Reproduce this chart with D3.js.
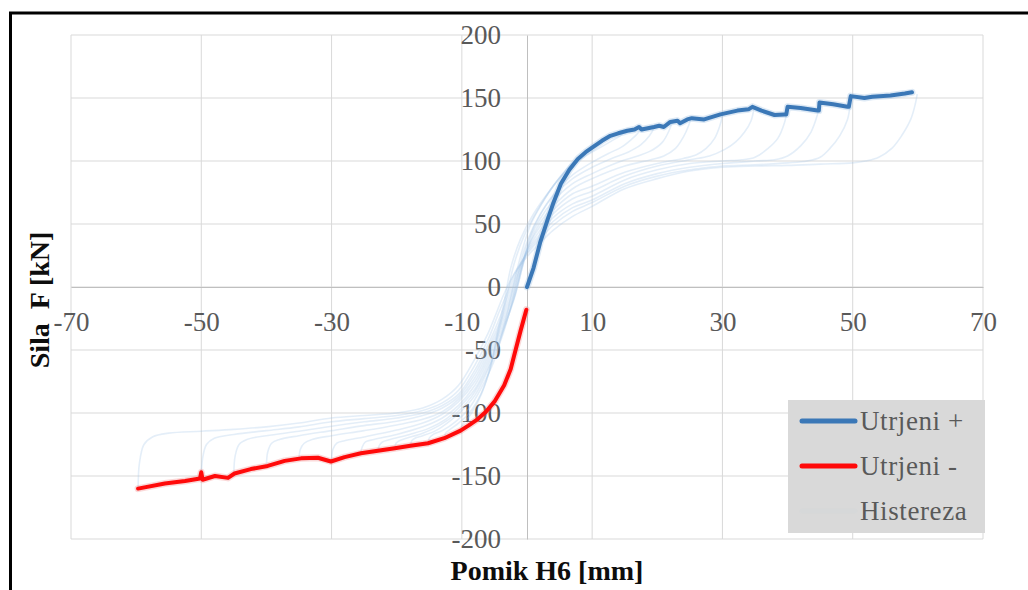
<!DOCTYPE html>
<html>
<head>
<meta charset="utf-8">
<script src="https://cdn.jsdelivr.net/npm/d3@7"></script>
<style>
  html, body { margin: 0; padding: 0; background: #fff; }
  svg { display: block; }
  text { font-family: "Liberation Serif", "Times New Roman", serif; }
</style>
</head>
<body>
<svg id="chart" width="1028" height="590"></svg>
<script>
// ---------------- DATA ----------------
const xTicks = [-70, -50, -30, -10, 10, 30, 50, 70];
const yTicks = [-200, -150, -100, -50, 0, 50, 100, 150, 200];
const xTitle = "Pomik H6 [mm]";
const yTitle = "Sila  F [kN]";
const seriesNames = ["Utrjeni +", "Utrjeni -", "Histereza"];

// envelope, positive direction [displacement mm, force kN]
const utrjeniPlus = [[0,0],[1,15],[2,35],[3.2,54],[4,66],[5.2,82],[6.5,93],[7.8,101.6],[9,107],[10.1,111],[11.5,116],[12.8,120],[14,122],[15.4,124],[16.5,125],[17.2,127],[17.6,125],[19.5,127],[20.3,128],[21,127],[22,131],[23.1,132],[23.5,130],[24.6,133],[25.3,134],[27.2,133],[29.7,137],[32.3,140],[34,141],[34.6,143],[36,140],[38,136.5],[39.5,137],[39.8,137],[40,143],[42,142],[44.6,140],[44.8,140],[44.9,146.5],[47,145],[49.2,143],[49.4,143],[49.7,151.5],[51.8,150],[53,151],[55.8,152],[58,153.5],[59.1,154.5]];

// envelope, negative direction
const utrjeniMinus = [[-0.1,-18],[-1,-35],[-2,-55],[-2.5,-65],[-3.5,-78],[-5,-91],[-6.3,-99],[-7.6,-105],[-9,-110],[-10.2,-114],[-12.7,-120],[-15.2,-124],[-17.9,-126],[-20.3,-128],[-22.9,-130],[-25.5,-132],[-28,-135],[-30.1,-138.5],[-32.1,-135.5],[-34.7,-136],[-37.2,-138],[-39.8,-142],[-42.4,-144.5],[-44.9,-148],[-45.9,-151.5],[-47.9,-150],[-49.8,-153],[-50,-147],[-50.2,-152],[-52.5,-154],[-55.6,-156],[-59.7,-160]];

// hysteresis branches (one per cycle amplitude)
const hyst60 = [[-59.7,-160],[-59.5,-140],[-58.8,-125],[-57.5,-119],[-55,-116],[-50,-114.5],[-45,-113],[-40,-111],[-35,-108],[-30,-104],[-25,-102],[-20,-100],[-16,-96],[-13,-89],[-10.5,-78],[-8,-57],[-6,-37],[-4.5,-18],[-3.4,-4],[-2,10],[0,24],[2,35],[4,45],[7,56],[10,64],[15,78],[20,86],[25,92],[30,95],[35,96],[40,96.5],[45,97.5],[50,98.5],[52,100],[54,103],[56,110],[57.5,120],[58.9,133],[59.6,145],[59.9,153]];
const hyst50 = [[-50,-152],[-49.8,-136],[-49.2,-125],[-48,-120],[-45,-117],[-40,-114],[-35,-111],[-30,-107],[-25,-104.5],[-20,-102],[-16,-98],[-13,-92],[-10.5,-82],[-8,-62],[-6,-42],[-4.3,-20],[-3,-4],[-1.8,12],[0,26],[2,38],[4,49],[7,60],[10,67],[15,80],[20,88],[25,93],[30,96],[35,97],[40,98.5],[43,100],[45,103],[46.5,110],[48,120],[49.2,133],[49.6,145]];
const hyst45 = [[-45,-148],[-44.8,-134],[-44.2,-125],[-43,-121],[-40,-118],[-35,-114.5],[-30,-110.5],[-25,-107],[-20,-104],[-16,-100],[-13,-94],[-10.5,-85],[-8,-66],[-6,-46],[-4,-22],[-2.8,-5],[-1.5,13],[0,27],[2,40],[4,52],[7,63],[10,69],[15,82],[20,90],[25,95],[30,98],[35,100],[38,101],[40,104],[42,112],[43.6,123],[44.6,137],[45,146]];
const hyst40 = [[-40,-142],[-39.8,-131],[-39.2,-124],[-38,-121],[-35,-118],[-30,-114],[-25,-110],[-20,-106.5],[-16,-102],[-13,-96],[-10.5,-87],[-8,-69],[-6,-49],[-4,-26],[-2.6,-6],[-1.2,14],[0,28],[2,42],[4,55],[7,66],[10,72],[15,85],[20,93],[25,98],[30,100],[33,101],[35,103],[37,110],[38.5,118],[39.5,130],[40,142]];
const hyst35 = [[-35,-137],[-34.8,-129],[-34.2,-124],[-33,-121],[-30,-118],[-25,-114],[-20,-109.5],[-16,-105],[-13,-99],[-10.5,-89],[-8,-72],[-6,-52],[-4,-29],[-2.4,-7],[-1,15],[0,29],[2,45],[4,58],[7,70],[10,76],[15,88],[20,96],[25,101],[28,104],[30.3,109],[32,115],[33.4,123],[34.4,132],[34.8,141]];
const hyst30 = [[-30,-138],[-29.8,-129],[-29.2,-124],[-28,-122],[-25,-119],[-20,-113.5],[-16,-108],[-13,-101],[-10.5,-91],[-8,-75],[-6,-55],[-4,-32],[-2.2,-8],[-0.8,16],[0,30],[2,48],[4,61],[7,74],[10,80],[15,91],[20,98],[24,102],[26,105],[27.5,110],[28.8,118],[29.6,128],[30,136]];
const hyst25 = [[-25.5,-132],[-25.3,-127],[-24.8,-123],[-23.5,-121],[-20,-117],[-16,-111],[-13,-104],[-10.5,-94],[-8,-78],[-6,-58],[-4,-35],[-2,-9],[-0.6,18],[0.5,36],[2,51],[4,64],[7,78],[10,86],[15,96],[19,101],[21,104],[22.8,110],[24,119],[24.8,128],[25.1,133]];
const hyst22 = [[-22.9,-130],[-22.7,-126],[-22.2,-123],[-21,-121],[-18,-117],[-15,-112],[-12.5,-105],[-10.5,-96],[-8,-81],[-6,-61],[-4,-38],[-2,-10],[-0.5,20],[0.6,40],[2,54],[4,68],[7,82],[10,90],[14,99],[17,104],[19,108],[20.8,115],[21.8,124],[22.3,131]];
const hyst20 = [[-20.3,-128],[-20.1,-124],[-19.6,-122],[-18.5,-120],[-16,-116],[-13.5,-110],[-11,-101],[-8.5,-87],[-6,-64],[-4,-40],[-2.2,-12],[-1,12],[0.3,38],[2,57],[4,72],[7,86],[10,95],[13,102],[15.5,107],[17.5,113],[18.8,120],[19.6,127]];
const hyst17 = [[-17.9,-126],[-17.7,-122],[-17.2,-120],[-16,-118],[-14,-114],[-12,-107],[-10,-98],[-8,-86],[-6,-66],[-4,-42],[-2.6,-18],[-1.6,5],[-0.4,30],[1,48],[3,66],[5,79],[7,89],[10,99],[12.5,106],[14.5,111],[16,117],[17,122],[17.4,126]];
const hyst15 = [[-15.2,-124],[-15,-120],[-14.4,-117],[-13,-114],[-11,-107],[-9,-97],[-7,-80],[-5,-58],[-4,-40],[-3,-20],[-2,3],[-0.8,28],[0.6,50],[2.5,68],[4,80],[6,92],[9,104],[11,110],[13,116],[14.3,120],[15,124]];
const hyst12 = [[-12.7,-120],[-12.5,-116],[-11.8,-113],[-10.5,-108],[-9,-101],[-7,-84],[-5.5,-62],[-4.5,-35],[-3.5,-12],[-2.5,15],[-1,38],[1,58],[4,80],[7,98],[9,106],[10.5,111],[11.8,116],[12.5,120]];
const hyst10 = [[-10.2,-114],[-10,-110],[-9.4,-106],[-8.5,-100],[-7,-85],[-6,-70],[-5,-50],[-4,-28],[-3,-5],[-2,18],[-0.5,40],[1.5,60],[4,80],[6.5,96],[8.5,105],[9.6,109],[10.1,111]];

const hysteresis = [hyst60, hyst50, hyst45, hyst40, hyst35, hyst30, hyst25, hyst22, hyst20, hyst17, hyst15, hyst12, hyst10];

// ---------------- CHART ----------------
const svg = d3.select("#chart");
const W = 1028, H = 590;
svg.append("rect").attr("width", W).attr("height", H).attr("fill", "#fff");

const x = d3.scaleLinear().domain([-70, 70]).range([71, 983]);
const y = d3.scaleLinear().domain([-200, 200]).range([539, 35]);

const gridColor = "#d9d9d9";
const labelColor = "#595959";
const fmt = d => String(d);   // plain hyphen-minus like the original

// gridlines
svg.append("g").selectAll("line").data(xTicks).join("line")
  .attr("x1", d => x(d)).attr("x2", d => x(d))
  .attr("y1", y(200)).attr("y2", y(-200))
  .attr("stroke", gridColor).attr("stroke-width", 1);
svg.append("g").selectAll("line").data(yTicks).join("line")
  .attr("x1", x(-70)).attr("x2", x(70))
  .attr("y1", d => y(d)).attr("y2", d => y(d))
  .attr("stroke", gridColor).attr("stroke-width", 1);

// axes through the origin
const xAxis = d3.axisBottom(x).tickValues(xTicks).tickSize(0).tickSizeOuter(0).tickPadding(25).tickFormat(fmt);
const gx = svg.append("g").attr("transform", `translate(0,${y(0)})`).call(xAxis);
gx.select(".domain").attr("stroke", "#bfbfbf").attr("stroke-width", 1);
gx.selectAll("text").attr("font-size", 27).attr("fill", labelColor)
  .attr("font-family", "Liberation Serif, Times New Roman, serif");

const yAxis = d3.axisLeft(y).tickValues(yTicks).tickSize(0).tickSizeOuter(0).tickPadding(26).tickFormat(fmt);
const gy = svg.append("g").attr("transform", `translate(${x(0)},0)`).call(yAxis);
gy.select(".domain").attr("stroke", "#bfbfbf").attr("stroke-width", 1);
gy.selectAll("text").attr("font-size", 27).attr("fill", labelColor)
  .attr("font-family", "Liberation Serif, Times New Roman, serif");

// hysteresis loops
const smooth = d3.line().x(d => x(d[0])).y(d => y(d[1])).curve(d3.curveCatmullRom.alpha(0.5));
const hystColor = "#9dc3e6";
svg.append("g").selectAll("path").data(hysteresis).join("path")
  .attr("d", smooth)
  .attr("fill", "none")
  .attr("stroke", hystColor)
  .attr("stroke-opacity", 0.28)
  .attr("stroke-width", 1.6);

// envelopes
const lin = d3.line().x(d => x(d[0])).y(d => y(d[1]));
const blue = "#3b78b7", red = "#ff0a0a";
svg.append("path").datum(utrjeniPlus).attr("d", lin).attr("fill", "none")
  .attr("stroke", "#9dc0e3").attr("stroke-width", 7).attr("stroke-opacity", 0.35)
  .attr("stroke-linejoin", "round").attr("stroke-linecap", "round");
svg.append("path").datum(utrjeniPlus).attr("d", lin).attr("fill", "none")
  .attr("stroke", blue).attr("stroke-width", 4).attr("stroke-linejoin", "round").attr("stroke-linecap", "round");
svg.append("path").datum(utrjeniMinus).attr("d", lin).attr("fill", "none")
  .attr("stroke", "#f08080").attr("stroke-width", 7).attr("stroke-opacity", 0.3)
  .attr("stroke-linejoin", "round").attr("stroke-linecap", "round");
svg.append("path").datum(utrjeniMinus).attr("d", lin).attr("fill", "none")
  .attr("stroke", red).attr("stroke-width", 4).attr("stroke-linejoin", "round").attr("stroke-linecap", "round");

// axis titles
svg.append("text").attr("x", 547).attr("y", 580).attr("text-anchor", "middle")
  .attr("font-size", 28).attr("font-weight", "bold").attr("fill", "#0d0d0d")
  .style("white-space", "pre").text(xTitle);
svg.append("text").attr("transform", "translate(49,300) rotate(-90)").attr("text-anchor", "middle")
  .attr("font-size", 28).attr("font-weight", "bold").attr("fill", "#0d0d0d")
  .style("white-space", "pre").text(yTitle);

// legend
const lg = svg.append("g");
lg.append("rect").attr("x", 788).attr("y", 400).attr("width", 197).attr("height", 133).attr("fill", "#d9d9d9");
const legendColors = [blue, red, hystColor];
const legendOpacity = [1, 1, 0.04];
seriesNames.forEach((name, i) => {
  const cy = 421 + i * 45;
  lg.append("line").attr("x1", 802).attr("x2", 855).attr("y1", cy).attr("y2", cy)
    .attr("stroke", legendColors[i]).attr("stroke-opacity", legendOpacity[i])
    .attr("stroke-width", 5).attr("stroke-linecap", "round");
  lg.append("text").attr("x", 860).attr("y", cy + 9).attr("font-size", 27)
    .attr("fill", labelColor).attr("letter-spacing", "0.6").text(name);
});

// outer frame
svg.append("rect").attr("x", 10.5).attr("y", 13).attr("width", 1100).attr("height", 700)
  .attr("fill", "none").attr("stroke", "#000").attr("stroke-width", 3);
</script>
</body>
</html>
